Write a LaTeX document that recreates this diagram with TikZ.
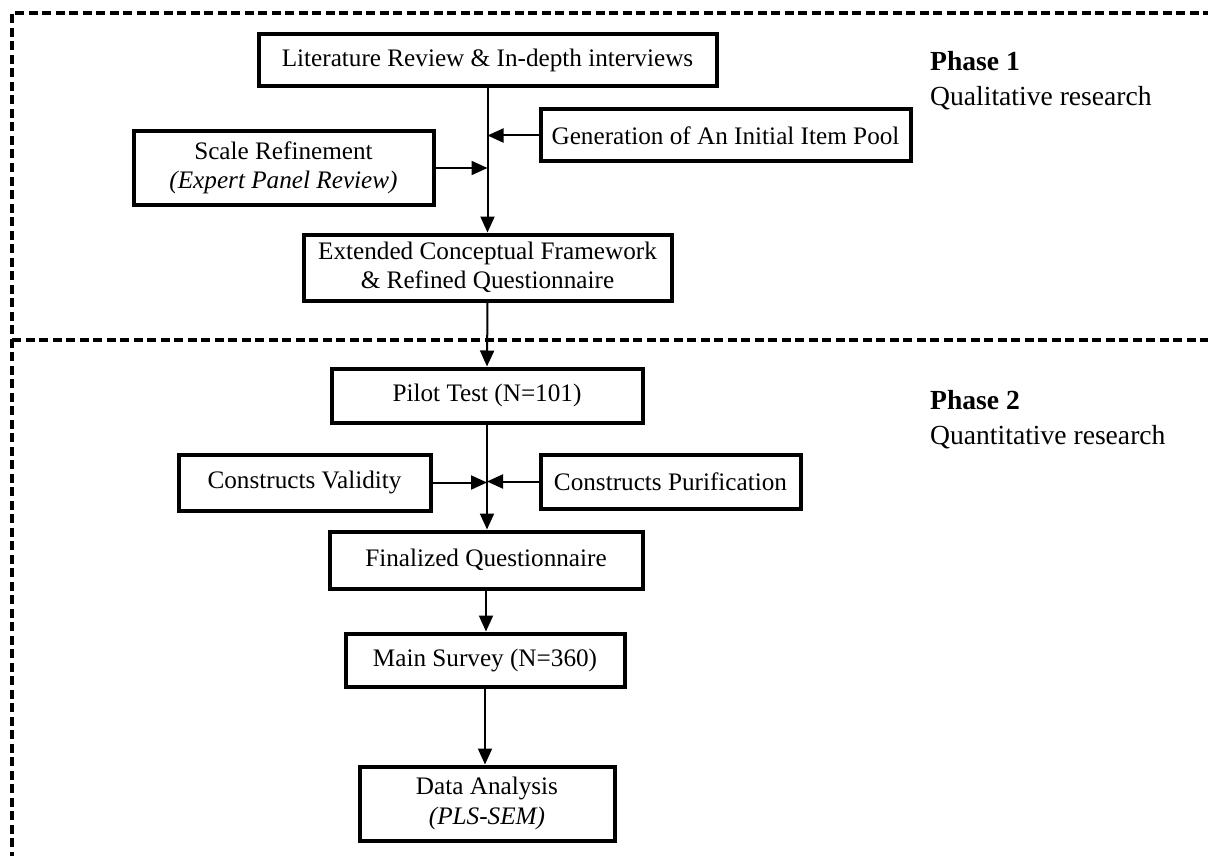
\documentclass[tikz,border=0pt]{standalone}
\usepackage{fontspec}
\setmainfont{Liberation Serif}
\usetikzlibrary{arrows.meta}
\begin{document}
\begin{tikzpicture}[x=1pt,y=-1pt,
 box/.style={draw,line width=4pt,inner sep=0pt,align=center,font=\fontsize{25.2}{29.5}\selectfont},
 arr/.style={line width=2pt,-{Triangle[length=16pt,width=14pt]}},
 border/.style={line width=3.5pt,dash pattern=on 9pt off 4.5pt},
 phase/.style={anchor=west,align=left,inner sep=0pt,font=\fontsize{27.6}{35}\selectfont}]
\useasboundingbox (0,0) rectangle (1208,856);
% dashed frames
\coordinate (tr) at (1212,13);
\coordinate (tl) at (12,13);
\coordinate (bl) at (12,860);
\coordinate (ml) at (12,340);
\coordinate (mr) at (1212,340);
\draw[border] (tr) -- (tl) -- (bl);
\draw[border] (ml) -- (mr);
% boxes
\node[box,minimum width=458pt,minimum height=52pt] (lit) at (487.5,60.5) {Literature Review \& In-depth interviews};
\node[box,minimum width=370pt,minimum height=52pt] (gen) at (725.5,135.5) {Generation of An Initial Item Pool};
\node[box,minimum width=300pt,minimum height=73pt] (scale) at (283.5,168) {Scale Refinement\\\textit{(Expert Panel Review)}};
\node[box,minimum width=368pt,minimum height=66pt] (ext) at (487.5,267.5) {Extended Conceptual Framework\\\& Refined Questionnaire};
\node[box,minimum width=311pt,minimum height=54pt] (pilot) at (487,395.5) {Pilot Test (N=101)};
\node[box,minimum width=252pt,minimum height=56pt] (valid) at (304.5,482.5) {Constructs Validity};
\node[box,minimum width=260pt,minimum height=54pt] (purif) at (670.5,481.5) {Constructs Purification};
\node[box,minimum width=313pt,minimum height=57pt] (final) at (486,560) {Finalized Questionnaire};
\node[box,minimum width=279pt,minimum height=53pt] (main) at (485,660) {Main Survey (N=360)};
\node[box,minimum width=255pt,minimum height=74pt] (data) at (487,803.5) {Data Analysis\\\textit{(PLS-SEM)}};
% phase labels
\node[phase] (ph1) at (930,81) {\textbf{Phase 1}\\Qualitative research};
\node[phase] (ph2) at (930,420) {\textbf{Phase 2}\\Quantitative research};
% connectors
\draw[arr] (lit.south) -- (ext.north);
\draw[arr] (gen.west) -- (gen.west -| lit.south);
\draw[arr] (scale.east) -- (scale.east -| lit.south);
\draw[arr] (ext.south) -- (pilot.north);
\draw[arr] (pilot.south) -- (pilot.south |- final.north);
\draw[arr] (valid.east) -- (valid.east -| pilot.south);
\draw[arr] (purif.west) -- (purif.west -| pilot.south);
\draw[arr] (final.south) -- (final.south |- main.north);
\draw[arr] (main.south) -- (main.south |- data.north);
\end{tikzpicture}
\end{document}
